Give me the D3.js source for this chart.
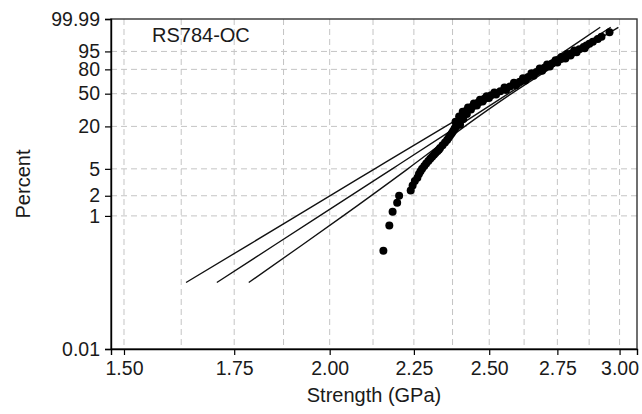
<!DOCTYPE html>
<meta charset="utf-8">
<style>
body { margin: 0; background: #fff; }
text { font-family: "Liberation Sans", Arial, sans-serif; fill: #1a1a1a; }
.grid line { stroke: #c4c4c4; stroke-width: 1; stroke-dasharray: 6,4; }
.fit { fill: none; stroke: #111; stroke-width: 1.35; }
.dot { fill: #000; }
</style>
<body>
<script src="https://d3js.org/d3.v7.min.js"></script>
<script>

// strength (GPa) and cumulative failure percent of each fibre
var strengths = [2.156, 2.174, 2.184, 2.198, 2.204, 2.240, 2.246, 2.253, 2.261, 2.266,
  2.271, 2.276, 2.283, 2.289, 2.296, 2.302, 2.308, 2.314, 2.319, 2.325,
  2.330, 2.334, 2.342, 2.350, 2.357, 2.362, 2.367, 2.372, 2.376, 2.380,
  2.383, 2.387, 2.392, 2.398, 2.404, 2.410, 2.416, 2.422, 2.431, 2.442,
  2.452, 2.462, 2.472, 2.483, 2.495, 2.507, 2.520, 2.539, 2.557, 2.574,
  2.591, 2.609, 2.625, 2.640, 2.656, 2.671, 2.688, 2.702, 2.716, 2.730,
  2.746, 2.764, 2.773, 2.783, 2.794, 2.806, 2.820, 2.836, 2.853, 2.864,
  2.876, 2.890, 2.910, 2.925, 2.958,
  // points scattered either side of the band
  2.400, 2.385, 2.411, 2.397, 2.423, 2.409, 2.437, 2.427, 2.457, 2.447,
  2.477, 2.468, 2.499, 2.491, 2.524, 2.518, 2.560, 2.554, 2.595, 2.588,
  2.629, 2.621, 2.660, 2.652, 2.692, 2.683, 2.721, 2.711, 2.750, 2.743,
  2.781, 2.766, 2.801, 2.788, 2.825, 2.816, 2.857];
var percents = [0.30, 0.72, 1.15, 1.57, 2.0, 2.4, 2.85, 3.3, 3.7, 4.2,
  4.6, 5.0, 5.5, 6.0, 6.5, 7.0, 7.5, 8, 8.5, 9,
  9.5, 10, 11, 12, 13, 14, 15, 16, 17, 18,
  19, 20, 22, 24, 26, 28, 30, 32, 34, 36,
  38, 40, 42, 44, 46, 48, 50, 53, 56, 59,
  62, 65, 68, 71, 74, 77, 80, 82, 84, 86,
  88, 90, 91, 92, 93, 94, 95, 96, 97, 97.5,
  98, 98.5, 99, 99.3, 99.7,
  21, 23, 25, 27, 29, 31, 33, 35, 37, 39,
  41, 43, 45, 47, 49, 51.5, 54.5, 57.5, 60.5, 63.5,
  66.5, 69.5, 72.5, 75.5, 78.5, 81, 83, 85, 87, 89,
  90.5, 91.5, 92.5, 93.5, 94.5, 95.5, 96.5];

// fitted Weibull line and its two bounds
var linePercents = [0.1, 1, 5, 20, 50, 80, 95, 99.9];
var fitStrength   = [1.708, 1.972, 2.183, 2.392, 2.568, 2.706, 2.813, 2.963];
var lowerStrength = [1.636, 1.910, 2.130, 2.352, 2.536, 2.674, 2.778, 2.920];
var upperStrength = [1.786, 2.038, 2.231, 2.416, 2.579, 2.718, 2.831, 2.995];

// axis ticks
var xTicks = [1.50, 1.75, 2.00, 2.25, 2.50, 2.75, 3.00];
var xGrid = [1.500, 1.625, 1.750, 1.875, 2.000, 2.125, 2.250, 2.375, 2.500, 2.625, 2.750, 2.875, 3.000];
var yTicks = [0.01, 1, 2, 5, 20, 50, 80, 95, 99.99];
var yGrid = [1, 2, 5, 20, 50, 80, 95];
var label = "RS784-OC";

var width = 642, height = 414;
var plot = {left: 111, right: 637, top: 19, bottom: 349};

var svg = d3.select("body").append("svg")
    .attr("width", width)
    .attr("height", height);

// log strength on x, Weibull ln(-ln(1-F)) on y
var x = d3.scaleLog()
    .domain([1.473, 3.074])
    .range([plot.left, plot.right]);
function weib(p) { return Math.log(-Math.log(1 - p / 100)); }
var yw = d3.scaleLinear()
    .domain([weib(0.01), weib(99.99)])
    .range([plot.bottom, plot.top]);
var y = function(p) { return yw(weib(p)); };

// dashed grid
var grid = svg.append("g").attr("class", "grid");
grid.selectAll(".vg").data(xGrid).enter().append("line")
    .attr("x1", function(d) { return x(d); })
    .attr("x2", function(d) { return x(d); })
    .attr("y1", plot.top).attr("y2", plot.bottom);
grid.selectAll(".hg").data(yGrid).enter().append("line")
    .attr("y1", function(d) { return y(d); })
    .attr("y2", function(d) { return y(d); })
    .attr("x1", plot.left).attr("x2", plot.right);

// frame
svg.append("rect")
    .attr("x", plot.left).attr("y", plot.top)
    .attr("width", plot.right - plot.left)
    .attr("height", plot.bottom - plot.top)
    .attr("fill", "none").attr("stroke", "#333").attr("stroke-width", 1.4);

// axes
var xAxis = svg.append("g")
    .attr("transform", "translate(0," + plot.bottom + ")")
    .call(d3.axisBottom(x).tickValues(xTicks).tickFormat(d3.format(".2f")).tickSizeOuter(0).tickSize(6).tickPadding(6));
var yAxis = svg.append("g")
    .attr("transform", "translate(" + plot.left + ",0)")
    .call(d3.axisLeft(yw).tickValues(yTicks.map(weib)).tickFormat(function(d, i) { return yTicks[i]; }).tickSizeOuter(0).tickSize(6).tickPadding(5));
[xAxis, yAxis].forEach(function(a) {
  a.select(".domain").attr("stroke", "#000").attr("stroke-width", 1.4);
  a.selectAll(".tick line").attr("stroke", "#000").attr("stroke-width", 1.2);
  a.selectAll("text").attr("font-size", 19.5).attr("font-family", "Liberation Sans, Arial, sans-serif").attr("fill", "#1a1a1a");
});

// fit lines
var lineFor = function(vals) {
  return d3.line()
    .x(function(d, i) { return x(vals[i]); })
    .y(function(d) { return y(d); })
    .curve(d3.curveCatmullRom)(linePercents);
};
[lowerStrength, fitStrength, upperStrength].forEach(function(s) {
  svg.append("path").attr("class", "fit").attr("d", lineFor(s));
});

// data points
svg.selectAll(".dot").data(strengths).enter().append("circle")
    .attr("class", "dot")
    .attr("cx", function(d) { return x(d); })
    .attr("cy", function(d, i) { return y(percents[i]); })
    .attr("r", 4);

// labels
svg.append("text").attr("x", 152).attr("y", 42).attr("font-size", 20).text(label);
svg.append("text")
    .attr("x", (plot.left + plot.right) / 2).attr("y", 402)
    .attr("text-anchor", "middle").attr("font-size", 20)
    .text("Strength (GPa)");
svg.append("text")
    .attr("transform", "translate(30," + (plot.top + plot.bottom) / 2 + ") rotate(-90)")
    .attr("text-anchor", "middle").attr("font-size", 20)
    .text("Percent");

</script>
</body>
